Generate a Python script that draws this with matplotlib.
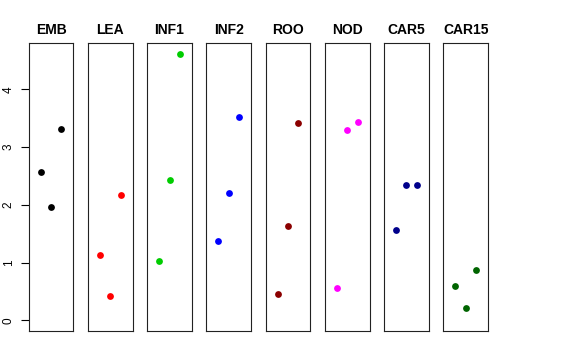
#!/usr/bin/env python3
import matplotlib.pyplot as plt

plt.rcParams['font.family'] = ['Liberation Sans', 'DejaVu Sans']

tissues = ["EMB", "LEA", "INF1", "INF2", "ROO", "NOD", "CAR5", "CAR15"]
colors = ["black", "red", "#00CD00", "blue", "#8B0000", "magenta", "#00008B", "#006400"]

emb = [2.57, 1.97, 3.32]
lea = [1.14, 0.42, 2.17]
inf1 = [1.02, 2.43, 4.615]
inf2 = [1.37, 2.20, 3.52]
roo = [0.45, 1.63, 3.42]
nod = [0.56, 3.30, 3.43]
car5 = [1.57, 2.34, 2.34]
car15 = [0.60, 0.22, 0.87]
series = [emb, lea, inf1, inf2, roo, nod, car5, car15]

reps = [1, 2, 3]
yticks = [0, 1, 2, 3, 4]

W, H = 576, 360
fig = plt.figure(figsize=(W / 100, H / 100), dpi=100)

ymax = max(max(s) for s in series)
ylim = (0 - 0.04 * ymax, ymax * 1.04)
xlim = (-0.16, 4.16)

left0, step, pw = 28.7, 59.23, 44.7
top, bottom = 43.3, 331.0

for i, (name, vals, col) in enumerate(zip(tissues, series, colors)):
    ax = fig.add_axes([(left0 + i * step) / W, (H - bottom) / H,
                       pw / W, (bottom - top) / H])
    ax.scatter(reps, vals, s=24, color=col, linewidths=0, zorder=3)
    ax.set_xlim(*xlim)
    ax.set_ylim(*ylim)
    ax.set_xticks([])
    for sp in ax.spines.values():
        sp.set_linewidth(0.8)
        sp.set_color('#222222')
    ax.set_title(name, fontsize=10, fontweight='bold', pad=6.5)
    if i == 0:
        ax.set_yticks(yticks)
        ax.set_yticklabels([str(t) for t in yticks], rotation=90,
                           va='center', fontsize=8.5)
        ax.tick_params(axis='y', length=5.5, width=0.8, pad=4.5)
    else:
        ax.set_yticks([])

fig.savefig("out.png", dpi=100)
